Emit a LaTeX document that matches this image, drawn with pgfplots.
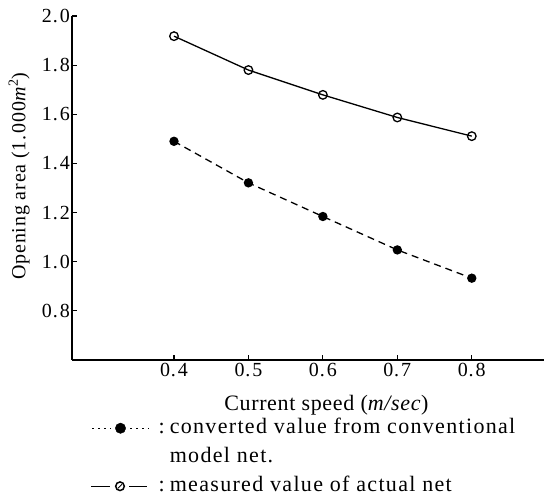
\documentclass[border=0pt]{standalone}
\usepackage{fontspec}
\setmainfont{Liberation Serif}[LetterSpace=4]
\newfontfamily\legfont{Liberation Serif}[LetterSpace=6]
\newfontfamily\xlabfont{Liberation Serif}[LetterSpace=3]
\usepackage{pgfplots}
\pgfplotsset{compat=1.18}
\begin{document}
\begin{tikzpicture}
\useasboundingbox (-72pt,-140pt) rectangle (472pt,360pt);
\begin{axis}[
  scale only axis,
  width=472pt, height=344pt,
  xmin=0.263, xmax=0.897,
  ymin=0.6, ymax=2.0,
  axis lines*=left,
  axis line style={line width=1.3pt},
  tick align=inside,
  major tick length=5pt,
  tick style={line width=1.2pt, black},
  xtick={0.4,0.5,0.6,0.7,0.8},
  ytick={0.8,1.0,1.2,1.4,1.6,1.8,2.0},
  /pgf/number format/assume math mode=true,
  /pgf/number format/fixed,
  /pgf/number format/precision=1,
  /pgf/number format/fixed zerofill,
  /pgf/number format/set decimal separator={.\kern2pt},
  font=\fontsize{20}{24}\selectfont,
  yticklabel style={inner sep=2pt},
  xticklabel style={inner sep=3pt},
  xlabel={\xlabfont Current speed (\textit{m/sec})},
  xlabel style={at={(axis description cs:0.539,-0.1306)}, anchor=center,
    font=\fontsize{22}{26}\selectfont},
  ylabel={Opening area (1.\kern2pt000\textit{m}\textsuperscript{2})},
  ylabel style={at={(axis description cs:-0.112,0.535)}, anchor=center},
  legend style={at={(axis description cs:0.032,-0.16)}, anchor=north west,
    draw=none, fill=none, font=\fontsize{22}{26}\selectfont\legfont,
    row sep=7pt,
    nodes={inner sep=1pt, text height=15pt, text depth=5pt}},
  legend cell align=left,
]
\addplot[black, line width=1.3pt, dash pattern=on 7pt off 5pt,
  mark=*, mark size=4pt, mark options={solid, fill=black}, forget plot]
  coordinates {(0.4,1.490) (0.5,1.321) (0.6,1.184) (0.7,1.048) (0.8,0.933)};
\addplot[black, line width=1.3pt,
  mark=o, mark size=4.3pt, mark options={solid, fill=white, line width=1.3pt}, forget plot]
  coordinates {(0.4,1.918) (0.5,1.780) (0.6,1.679) (0.7,1.587) (0.8,1.511)};
\addlegendimage{legend image code/.code={
  \draw[black, line width=1.3pt, dash pattern=on 1.5pt off 4.5pt] (1pt,0pt) -- (20pt,0pt);
  \draw[black, line width=1.3pt, dash pattern=on 1.5pt off 4.5pt] (39pt,0pt) -- (58pt,0pt);
  \fill[black] (29.5pt,0pt) circle (5.2pt);}}
\addlegendentry{\kern8pt:\kern5pt converted value from conventional}
\addlegendimage{empty legend}
\addlegendentry{\hphantom{\kern8pt:\kern5pt }model net.}
\addlegendimage{legend image code/.code={
  \draw[black, line width=1.4pt] (0pt,0pt) -- (19pt,0pt);
  \draw[black, line width=1pt] (38pt,0pt) -- (56pt,0pt);
  \draw[black, line width=1.5pt] (29pt,0pt) circle (4.3pt);
  \draw[black, line width=1pt] (27pt,-2pt) -- (31pt,2pt);}}
\addlegendentry{\kern8pt:\kern5pt measured value of actual net}
\end{axis}
\end{tikzpicture}
\end{document}
